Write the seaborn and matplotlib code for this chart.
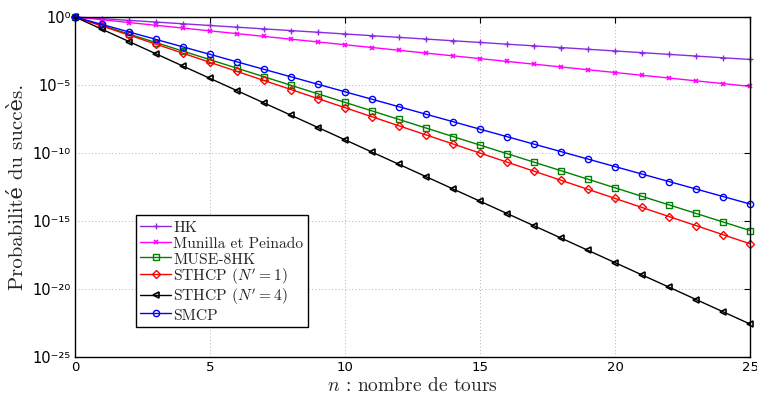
import numpy as np
import pandas as pd
import matplotlib
matplotlib.use("Agg")
import matplotlib.pyplot as plt
from matplotlib.ticker import FixedLocator, FixedFormatter, NullLocator
import seaborn as sns

# Number of rounds
rounds = list(range(26))

# Success probability for each protocol, per number of rounds
hk = [1.0, 7.5e-1, 5.63e-1, 4.22e-1, 3.16e-1, 2.37e-1, 1.78e-1, 1.33e-1, 1.0e-1,
      7.51e-2, 5.63e-2, 4.22e-2, 3.17e-2, 2.38e-2, 1.78e-2, 1.34e-2, 1.0e-2,
      7.52e-3, 5.64e-3, 4.23e-3, 3.17e-3, 2.38e-3, 1.78e-3, 1.34e-3, 1.0e-3, 7.53e-4]
munilla = [1.0, 6.25e-1, 3.91e-1, 2.44e-1, 1.53e-1, 9.54e-2, 5.96e-2, 3.73e-2, 2.33e-2,
           1.46e-2, 9.09e-3, 5.68e-3, 3.55e-3, 2.22e-3, 1.39e-3, 8.67e-4, 5.42e-4,
           3.39e-4, 2.12e-4, 1.32e-4, 8.27e-5, 5.17e-5, 3.23e-5, 2.02e-5, 1.26e-5, 7.89e-6]
muse = [1.0, 2.36e-1, 5.55e-2, 1.31e-2, 3.08e-3, 7.24e-4, 1.71e-4, 4.02e-5, 9.46e-6,
        2.23e-6, 5.25e-7, 1.24e-7, 2.91e-8, 6.85e-9, 1.61e-9, 3.80e-10, 8.95e-11,
        2.11e-11, 4.97e-12, 1.17e-12, 2.75e-13, 6.49e-14, 1.53e-14, 3.60e-15, 8.47e-16, 2.0e-16]
sthcp1 = [1.0, 2.15e-1, 4.63e-2, 9.98e-3, 2.15e-3, 4.62e-4, 9.95e-5, 2.14e-5, 4.61e-6,
          9.93e-7, 2.14e-7, 4.60e-8, 9.91e-9, 2.13e-9, 4.59e-10, 9.89e-11, 2.13e-11,
          4.58e-12, 9.86e-13, 2.12e-13, 4.57e-14, 9.84e-15, 2.12e-15, 4.56e-16, 9.82e-17, 2.11e-17]
sthcp4 = [1.0, 1.25e-1, 1.56e-2, 1.95e-3, 2.44e-4, 3.05e-5, 3.81e-6, 4.77e-7, 5.96e-8,
          7.45e-9, 9.31e-10, 1.16e-10, 1.46e-11, 1.82e-12, 2.27e-13, 2.84e-14, 3.55e-15,
          4.44e-16, 5.55e-17, 6.94e-18, 8.67e-19, 1.08e-19, 1.36e-20, 1.69e-21, 2.12e-22, 2.65e-23]
smcp = [1.0, 2.82e-1, 7.94e-2, 2.24e-2, 6.31e-3, 1.78e-3, 5.01e-4, 1.41e-4, 3.98e-5,
        1.12e-5, 3.16e-6, 8.91e-7, 2.51e-7, 7.08e-8, 2.0e-8, 5.62e-9, 1.58e-9,
        4.47e-10, 1.26e-10, 3.55e-11, 1.0e-11, 2.82e-12, 7.94e-13, 2.24e-13, 6.31e-14, 1.78e-14]

labels = ["HK", "Munilla et Peinado", "MUSE-8HK",
          "STHCP ($N'=1$)", "STHCP ($N'=4$)", "SMCP"]
series = [hk, munilla, muse, sthcp1, sthcp4, smcp]

x_ticks = [0, 5, 10, 15, 20, 25]
y_exponents = [0, -5, -10, -15, -20, -25]
y_tick_labels = ["10⁰", "10⁻⁵", "10⁻¹⁰", "10⁻¹⁵", "10⁻²⁰", "10⁻²⁵"]

colors = ["#8a2be2", "#ff00ff", "#008000", "#ff0000", "#000000", "#0000ff"]
marker_styles = [
    dict(marker="+", markersize=5, markeredgewidth=1.0),
    dict(marker="x", markersize=3.5, markeredgewidth=1.2),
    dict(marker="s", markersize=4, markerfacecolor="none", markeredgewidth=1.0),
    dict(marker="D", markersize=4, markerfacecolor="none", markeredgewidth=1.0),
    dict(marker="<", markersize=4.5, markerfacecolor="none", markeredgewidth=1.2),
    dict(marker="o", markersize=4.5, markerfacecolor="none", markeredgewidth=1.0),
]

sns.set_style("white")
plt.rcParams["mathtext.fontset"] = "cm"
plt.rcParams["font.family"] = ["cmr10", "DejaVu Serif"]
plt.rcParams["axes.unicode_minus"] = False

fig = plt.figure(figsize=(7.57, 3.94), dpi=100)
ax = fig.add_axes([0.0991, 0.0939, 0.8917, 0.8630])

for vals, lab, col, st in zip(series, labels, colors, marker_styles):
    df = pd.DataFrame({"n": rounds, "p": vals})
    sns.lineplot(data=df, x="n", y="p", ax=ax, label=lab, linewidth=1.0,
                 color=col, markeredgecolor=col, clip_on=False, **st)

ax.set_yscale("log")
ax.set_xlim(0, 25)
ax.set_ylim(1e-25, 1.0)

ax.xaxis.set_major_locator(FixedLocator(x_ticks))
ax.xaxis.set_major_formatter(FixedFormatter([str(t) for t in x_ticks]))
ax.yaxis.set_major_locator(FixedLocator([10.0 ** e for e in y_exponents]))
ax.yaxis.set_major_formatter(FixedFormatter(y_tick_labels))
ax.xaxis.set_minor_locator(NullLocator())
ax.yaxis.set_minor_locator(NullLocator())

ax.tick_params(axis="both", which="major", direction="in", length=4, width=0.8,
               top=True, right=True, colors="black", pad=3)
for lbl in ax.get_xticklabels():
    lbl.set_family("DejaVu Sans")
    lbl.set_fontsize(9.5)
for lbl in ax.get_yticklabels():
    lbl.set_family("DejaVu Sans")
    lbl.set_fontsize(10.5)

ax.grid(True, which="major", linestyle=(0, (1, 3)), color="#999999", linewidth=0.6)
for sp in ax.spines.values():
    sp.set_visible(True)
    sp.set_color("black")
    sp.set_linewidth(1.0)

ax.set_xlabel("$n$ : nombre de tours", fontsize=14, labelpad=2)
ax.set_ylabel("Probabilité du succès.", fontsize=15, labelpad=4)

# Tall handle boxes give every legend row the same height
leg = ax.legend(loc="upper left", bbox_to_anchor=(0.09, 0.418), fontsize=11.2,
                frameon=True, fancybox=False, edgecolor="black", framealpha=1,
                borderpad=0.3, labelspacing=0.0, handlelength=1.95,
                handleheight=1.08, handletextpad=0.15, borderaxespad=0)
leg.get_frame().set_linewidth(1.0)

fig.savefig("out.png", dpi=100)
